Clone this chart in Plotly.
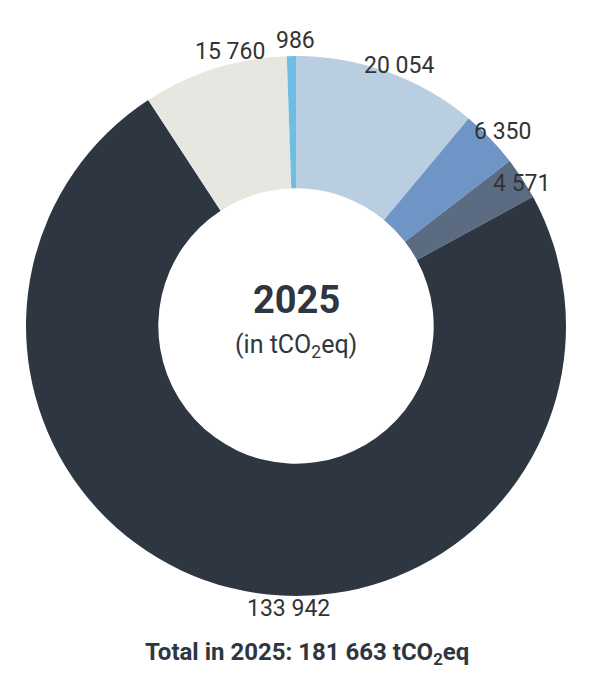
import plotly.graph_objects as go

labels = ["A", "B", "C", "D", "E", "F"]
values = [20054, 6350, 4571, 133942, 15760, 986]
colors = ["#b9cfe1", "#6f95c6", "#5b6b82", "#2e3741", "#e7e6e1", "#6cbfe3"]
# label anchor positions (pixels) as seen in the reference
label_pos = [(428, 42), (525, 108), (544, 160), (280, 616), (185, 28), (287, 17)]

fig = go.Figure(go.Pie(
    labels=labels, values=values, hole=0.51, sort=False, direction="clockwise",
    rotation=0, marker=dict(colors=colors, line=dict(width=0)),
    textinfo="none",
    domain=dict(x=[18/597, 558/597], y=[1-588/700, 1-48/700]),
    showlegend=False, hoverinfo="label+value"))

for v, (px_, py_) in zip(values, label_pos):
    fig.add_annotation(x=px_/597, y=1-py_/700, xref="paper", yref="paper", showarrow=False,
                       text=f"{v:,}".replace(",", " "),
                       font=dict(family="Roboto", size=23, color="#333333"))

fig.add_annotation(x=288/597, y=1-292/700, xref="paper", yref="paper", showarrow=False,
                   text="<b>2025</b>", font=dict(family="Roboto", size=38, color="#2e3741"))
fig.add_annotation(x=288/597, y=1-338/700, xref="paper", yref="paper", showarrow=False,
                   text="(in tCO<sub>2</sub>eq)", font=dict(family="Roboto", size=25, color="#2e3741"))
fig.add_annotation(x=0.5, y=1-663/700, xref="paper", yref="paper", showarrow=False,
                   text="<b>Total in 2025: 181 663 tCO<sub>2</sub>eq</b>",
                   font=dict(family="Roboto", size=24, color="#2e3741"))

fig.update_layout(width=597, height=700, margin=dict(l=0, r=0, t=0, b=0),
                  paper_bgcolor="white", plot_bgcolor="white")
fig.write_html("out.html")
